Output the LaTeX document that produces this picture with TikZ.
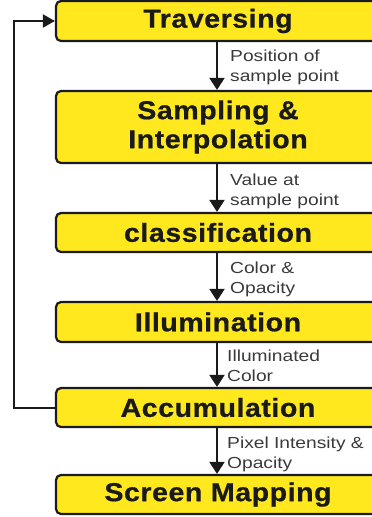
\documentclass[tikz,border=0pt]{standalone}
\usepackage{fontspec}
\usetikzlibrary{arrows.meta}
\newfontfamily\titlefont{Liberation Sans}[FakeStretch=1.1,FakeBold=0.6,LetterSpace=2]
\newfontfamily\labelfont{Liberation Sans}[FakeStretch=1.2]
\definecolor{boxyellow}{HTML}{FFE91E}
\definecolor{inkdark}{HTML}{1A1A1A}
\definecolor{labelgray}{HTML}{3A3A3A}
\begin{document}
\begin{tikzpicture}[x=1pt,y=-1pt,
  stagebox/.style={draw=inkdark, line width=2.2pt, fill=boxyellow, rounded corners=5pt,
    minimum width=324pt, inner sep=0pt, align=center, text=inkdark,
    font=\titlefont\bfseries\fontsize{26}{29}\selectfont},
  flowlabel/.style={anchor=base west, inner sep=0pt, align=left, text=labelgray,
    font=\labelfont\fontsize{16}{19.5}\selectfont},
  flow/.style={draw=inkdark, line width=2pt, -{Triangle[width=15pt,length=12pt]}}]
  \useasboundingbox (0,0) rectangle (372,517);
  \clip (0,0) rectangle (372,517);
  \fill[white] (0,0) rectangle (372,517);

  % processing stages
  \node[stagebox, minimum height=40pt] (trav) at (218,21) {Traversing};
  \node[stagebox, minimum height=72pt] (samp) at (218,127) {Sampling \&\\Interpolation};
  \node[stagebox, minimum height=39pt] (class) at (218,232.5) {classification};
  \node[stagebox, minimum height=40pt] (illum) at (218,322) {Illumination};
  \node[stagebox, minimum height=39pt] (accum) at (218,407.5) {Accumulation};
  \node[stagebox, minimum height=39pt] (screen) at (218,494.5) {Screen Mapping};

  % data passed between stages
  \draw[flow] (trav.south -| 217,0) -- (samp.north -| 217,0);
  \draw[flow] (samp.south -| 217,0) -- (class.north -| 217,0);
  \draw[flow] (class.south -| 217,0) -- (illum.north -| 217,0);
  \draw[flow] (illum.south -| 217,0) -- (accum.north -| 217,0);
  \draw[flow] (accum.south -| 217,0) -- (screen.north -| 217,0);

  % labels are placed by the baseline of their last line
  \node[flowlabel] (lpos) at (230,81) {Position of\\sample point};
  \node[flowlabel] (lval) at (230,205) {Value at\\sample point};
  \node[flowlabel] (lcol) at (230,293) {Color \&\\Opacity};
  \node[flowlabel] (lill) at (227,381) {Illuminated\\Color};
  \node[flowlabel] (lpix) at (227,468) {Pixel Intensity \&\\Opacity};

  % feedback loop back to traversal
  \coordinate (loop) at (14,21);
  \draw[flow, -{Triangle[width=13pt,length=12pt]}] (accum.west) -- (accum.west -| loop) -- (loop) -- (trav.west);
\end{tikzpicture}
\end{document}
